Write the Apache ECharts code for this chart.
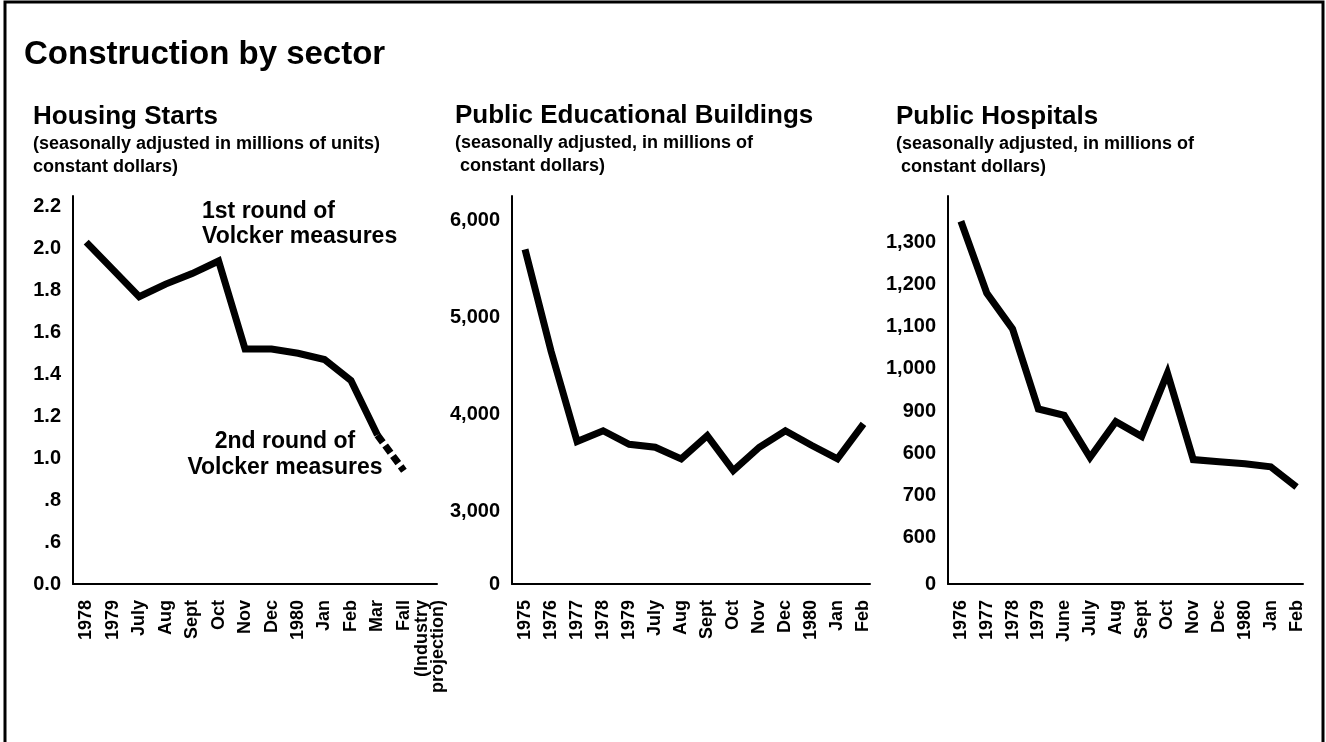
<!DOCTYPE html>
<html>
  <head>
    <meta charset="utf-8" />
    <title>Construction by sector</title>
    <script src="https://cdn.jsdelivr.net/npm/echarts/dist/echarts.min.js"></script>
    <style>
      body { margin: 0; background: #fff; }
    </style>
  </head>
  <body>
    <div id="main" style="width: 1326px; height: 742px;"></div>

    <script type="text/javascript">
      var myChart = echarts.init(document.getElementById('main'));

      const font = '"Liberation Sans", Arial, Helvetica, sans-serif';

      // Housing starts
      const housingMonths = ['1978', '1979', 'July', 'Aug', 'Sept', 'Oct', 'Nov', 'Dec', '1980', 'Jan', 'Feb', 'Mar', 'Fall\n(Industry\nprojection)'];
      const housingStarts = [2.03, 1.9, 1.77, 1.83, 1.88, 1.94, 1.52, 1.52, 1.5, 1.47, 1.37, 1.11, 0.94];
      const housingTickValues = [0.4, 0.6, 0.8, 1.0, 1.2, 1.4, 1.6, 1.8, 2.0, 2.2];
      const housingTickLabels = ['0.0', '.6', '.8', '1.0', '1.2', '1.4', '1.6', '1.8', '2.0', '2.2'];

      // Public educational buildings
      const eduMonths = ['1975', '1976', '1977', '1978', '1979', 'July', 'Aug', 'Sept', 'Oct', 'Nov', 'Dec', '1980', 'Jan', 'Feb'];
      const eduValues = [5700, 4650, 3720, 3830, 3690, 3660, 3540, 3780, 3420, 3660, 3830, 3680, 3540, 3900];
      const eduTickValues = [2250, 3000, 4000, 5000, 6000];
      const eduTickLabels = ['0', '3,000', '4,000', '5,000', '6,000'];

      // Public hospitals
      const hospMonths = ['1976', '1977', '1978', '1979', 'June', 'July', 'Aug', 'Sept', 'Oct', 'Nov', 'Dec', '1980', 'Jan', 'Feb'];
      const hospValues = [1350, 1180, 1095, 905, 890, 790, 875, 840, 990, 785, 780, 775, 768, 720];
      const hospTickValues = [490, 600, 700, 800, 900, 1000, 1100, 1200, 1300];
      const hospTickLabels = ['0', '600', '700', '600', '900', '1,000', '1,100', '1,200', '1,300'];

      function tickFormatter(values, labels) {
        return function (v) {
          for (let i = 0; i < values.length; i++) {
            if (Math.abs(values[i] - v) < 1e-6) return labels[i];
          }
          return '';
        };
      }

      function monthFormatter(months) {
        return function (v) {
          if (Math.abs(v - Math.round(v)) > 1e-6) return '';
          const i = Math.round(v);
          if (i < months.length) return months[i].split('\n')[0];
          // extra lines of the last label go one step further right
          const last = months[months.length - 1].split('\n');
          if (i === months.length && last.length > 1) return last.slice(1).join('\n');
          return '';
        };
      }

      const axisLine = { show: true, onZero: false, lineStyle: { color: '#000', width: 2 } };

      function xAxisFor(gridIndex, months) {
        return {
          type: 'value', gridIndex: gridIndex,
          min: -0.5, max: 13.25, interval: 0.25,
          axisLine: axisLine, axisTick: { show: false }, splitLine: { show: false },
          axisLabel: {
            rotate: 90, margin: 16, color: '#000', fontSize: 18, fontWeight: 'bold',
            fontFamily: font, lineHeight: 16,
            formatter: monthFormatter(months)
          }
        };
      }

      function yAxisFor(gridIndex, min, max, interval, values, labels) {
        return {
          type: 'value', gridIndex: gridIndex,
          min: min, max: max, interval: interval,
          axisLine: axisLine, axisTick: { show: false }, splitLine: { show: false },
          axisLabel: {
            margin: 12, color: '#000', fontSize: 20, fontWeight: 'bold', fontFamily: font,
            formatter: tickFormatter(values, labels)
          }
        };
      }

      const lineStyle = { color: '#000', width: 7, join: 'miter', cap: 'butt' };
      const pairs = (arr) => arr.map((v, i) => [i, v]);

      const titleStyle = { color: '#000', fontSize: 26, fontWeight: 'bold', fontFamily: font };
      const subStyle = { color: '#000', fontSize: 18, fontWeight: 'bold', fontFamily: font, lineHeight: 23 };

      let option = {
        backgroundColor: '#fff',
        animation: false,
        title: [
          { text: 'Construction by sector', left: 24, top: 38, padding: 0,
            textStyle: { color: '#000', fontSize: 33, fontWeight: 'bold', fontFamily: font } },
          { text: 'Housing Starts', subtext: '(seasonally adjusted in millions of units)\nconstant dollars)',
            left: 33, top: 104, padding: 0, itemGap: 3, textStyle: titleStyle, subtextStyle: subStyle },
          { text: 'Public Educational Buildings', subtext: '(seasonally adjusted, in millions of\n constant dollars)',
            left: 455, top: 103, padding: 0, itemGap: 3, textStyle: titleStyle, subtextStyle: subStyle },
          { text: 'Public Hospitals', subtext: '(seasonally adjusted, in millions of\n constant dollars)',
            left: 896, top: 104, padding: 0, itemGap: 3, textStyle: titleStyle, subtextStyle: subStyle }
        ],
        grid: [
          { left: 73, right: 889, top: 196, bottom: 158 },
          { left: 512, right: 456, top: 196, bottom: 158 },
          { left: 948, right: 23, top: 196, bottom: 158 }
        ],
        xAxis: [
          xAxisFor(0, housingMonths),
          xAxisFor(1, eduMonths),
          xAxisFor(2, hospMonths)
        ],
        yAxis: [
          yAxisFor(0, 0.4, 2.25, 0.05, housingTickValues, housingTickLabels),
          yAxisFor(1, 2250, 6250, 250, eduTickValues, eduTickLabels),
          yAxisFor(2, 490, 1410, 10, hospTickValues, hospTickLabels)
        ],
        series: [
          { name: 'Housing starts', type: 'line', xAxisIndex: 0, yAxisIndex: 0, symbol: 'none',
            lineStyle: lineStyle, data: pairs(housingStarts).slice(0, housingStarts.length - 1) },
          { name: 'Projection', type: 'line', xAxisIndex: 0, yAxisIndex: 0, symbol: 'none',
            lineStyle: Object.assign({}, lineStyle, { type: [9, 4] }),
            data: pairs(housingStarts).slice(housingStarts.length - 2) },
          { name: 'Public educational buildings', type: 'line', xAxisIndex: 1, yAxisIndex: 1, symbol: 'none',
            lineStyle: lineStyle, data: pairs(eduValues) },
          { name: 'Public hospitals', type: 'line', xAxisIndex: 2, yAxisIndex: 2, symbol: 'none',
            lineStyle: lineStyle, data: pairs(hospValues) }
        ],
        graphic: [
          // frame
          { type: 'polyline', shape: { points: [[5, 742], [5, 2], [1323, 2], [1323, 742]] },
            style: { stroke: '#000', lineWidth: 3, fill: null } },
          // annotations
          { type: 'text', left: 202, top: 199,
            style: { text: '1st round of\nVolcker measures', fill: '#000', font: 'bold 23px ' + font, lineHeight: 25 } },
          { type: 'text', x: 285, y: 429,
            style: { text: '2nd round of\nVolcker measures', fill: '#000', font: 'bold 23px ' + font,
              lineHeight: 26, align: 'center' } }
        ]
      };

      myChart.setOption(option);
    </script>
  </body>
</html>
